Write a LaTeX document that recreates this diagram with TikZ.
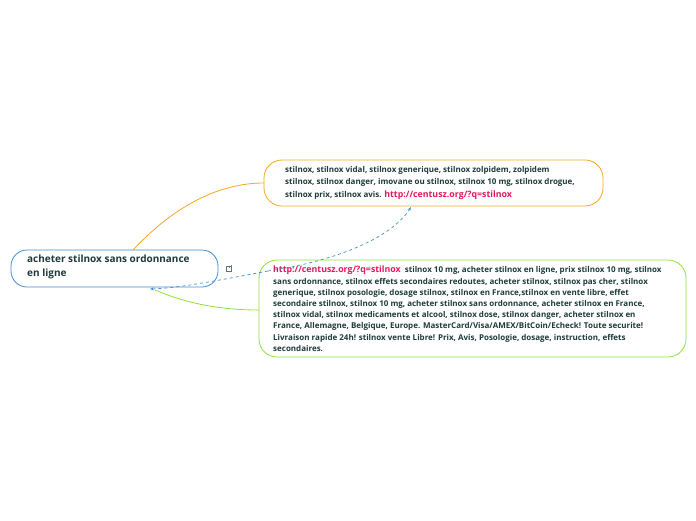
\documentclass[tikz,border=0pt]{standalone}
\usepackage{fontspec}
\setmainfont{Open Sans}
\usetikzlibrary{arrows.meta}
\definecolor{txt}{HTML}{1E3A3A}
\definecolor{lnk}{HTML}{E0195A}
\definecolor{bl}{HTML}{3F8FD2}
\definecolor{org}{HTML}{F5A623}
\definecolor{grn}{HTML}{8EE03A}
\tikzset{box/.style={draw, rounded corners=13pt, line width=0.8pt, inner sep=0pt},
 dsh/.style={draw=bl, dashed, line width=0.7pt},
 tx/.style={anchor=north west, text=txt, align=left, inner sep=0pt}}
\begin{document}
\begin{tikzpicture}[x=1pt,y=-1pt]
\useasboundingbox (0,0) rectangle (696,520);
\draw[box, draw=bl, rounded corners=16pt, fill=white] (11,250) rectangle (218,287);
\node[tx, font=\bfseries\fontsize{10}{13.5}\selectfont] (m) at (27,255) {acheter stilnox sans ordonnance\\en ligne};
\coordinate (mb) at (150,289);
\coordinate (mt) at (133,250);
\draw[box, draw=org, rounded corners=18pt] (264,160) rectangle (603,206);
\coordinate (ol) at (264,183);
\coordinate (ob) at (411,207);
\node[tx, font=\bfseries\fontsize{8}{12.5}\selectfont] (o) at (285,166) {stilnox, stilnox vidal, stilnox generique, stilnox zolpidem, zolpidem\\stilnox, stilnox danger, imovane ou stilnox, stilnox 10 mg, stilnox drogue,\\stilnox prix, stilnox avis. {\color{lnk}\fontsize{8.8}{12.5}\selectfont http://centusz.org/?q=stilnox}};
\draw[box, draw=grn, rounded corners=18pt] (259,260) rectangle (686,357);
\coordinate (gl) at (259,310);
\coordinate (gs) at (268,271);
\node[tx, font=\bfseries\fontsize{8}{11.2}\selectfont] (g) at (273,266) {{\color{lnk}\fontsize{8.8}{11.2}\selectfont http://centusz.org/?q=stilnox}\ \ stilnox 10 mg, acheter stilnox en ligne, prix stilnox 10 mg, stilnox\\sans ordonnance, stilnox effets secondaires redoutes, acheter stilnox, stilnox pas cher, stilnox\\generique, stilnox posologie, dosage stilnox, stilnox en France,stilnox en vente libre, effet\\secondaire stilnox, stilnox 10 mg, acheter stilnox sans ordonnance, acheter stilnox en France,\\stilnox vidal, stilnox medicaments et alcool, stilnox dose, stilnox danger, acheter stilnox en\\France, Allemagne, Belgique, Europe. MasterCard/Visa/AMEX/BitCoin/Echeck! Toute securite!\\Livraison rapide 24h! stilnox vente Libre! Prix, Avis, Posologie, dosage, instruction, effets\\secondaires.};
\draw[org, line width=0.8pt] (mt) .. controls (175,205) and (220,183) .. (ol);
\draw[grn, line width=0.8pt] (155,290) .. controls (190,305) and (225,310) .. (gl);
\draw[dsh, -{Stealth[length=4pt]}] (gs) .. controls (220,280) and (180,288) .. (mb);
\draw[dsh, -{Stealth[length=4pt]}] (gs) .. controls (330,262) and (390,240) .. (ob);
\draw[txt!70, line width=0.5pt] (226,266) rectangle (231,271);
\draw[txt!70, line width=0.5pt] (229,268) -- (232,265);
\end{tikzpicture}
\end{document}
